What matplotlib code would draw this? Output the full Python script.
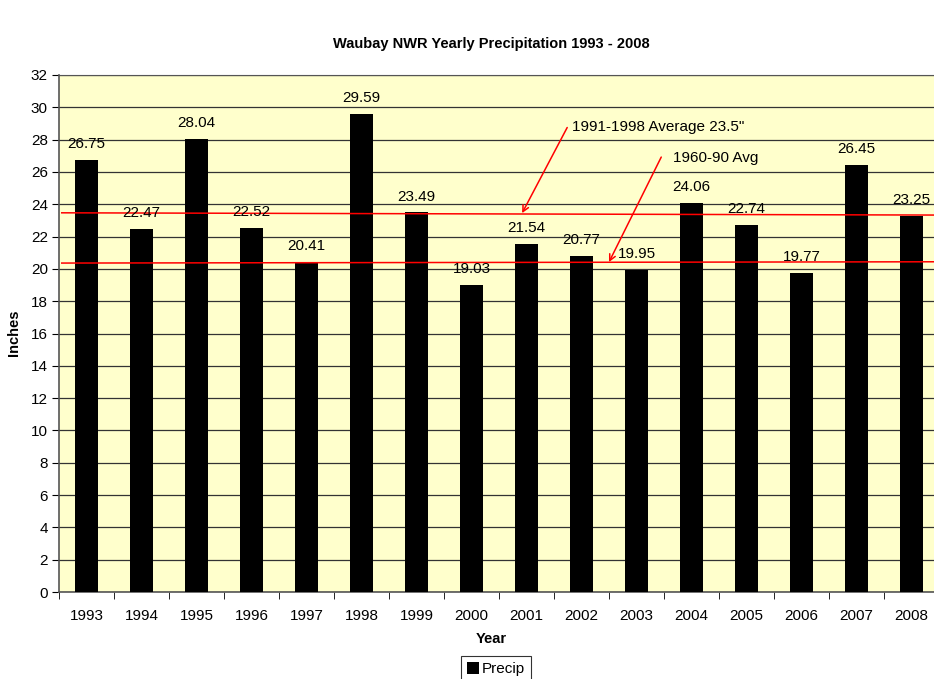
import matplotlib
matplotlib.use("Agg")
import matplotlib.pyplot as plt
import numpy as np

years = ["1993", "1994", "1995", "1996", "1997", "1998", "1999", "2000",
         "2001", "2002", "2003", "2004", "2005", "2006", "2007", "2008"]
precip = [26.75, 22.47, 28.04, 22.52, 20.41, 29.59, 23.49, 19.03,
          21.54, 20.77, 19.95, 24.06, 22.74, 19.77, 26.45, 23.25]
avg_9198 = [23.47, 23.33]
avg_6090 = [20.36, 20.44]
yticks = list(range(0, 33, 2))

plt.rcParams['font.family'] = ['Liberation Sans', 'DejaVu Sans']

W, H = 934, 679
fig = plt.figure(figsize=(W / 100, H / 100), dpi=100)
left, right, top, bottom = 59, 939, 75, 592
ax = fig.add_axes([left / W, 1 - bottom / H, (right - left) / W, (bottom - top) / H])
ax.set_facecolor('#FFFFCC')

x = np.arange(len(years))
ax.set_xlim(-0.5, len(years) - 0.5)
ax.set_ylim(0, 32)
ax.set_yticks(yticks)
ax.yaxis.grid(True, color='#333333', linewidth=0.9)
ax.set_axisbelow(True)

bars = ax.bar(x, precip, width=0.42, color='black', zorder=3, label='Precip')
for xi, v in zip(x, precip):
    ax.annotate(f"{v:.2f}", (xi, v), xytext=(0, 11.5), textcoords='offset points',
                ha='center', va='center', fontsize=11, zorder=5)

ax.plot([-0.45, len(years) - 0.45], avg_9198, color='red', linewidth=1.1, zorder=4)
ax.plot([-0.45, len(years) - 0.45], avg_6090, color='red', linewidth=1.1, zorder=4)

arrow = dict(arrowstyle='->', color='red', lw=1.1, shrinkA=0, shrinkB=0,
             mutation_scale=11)
ax.annotate('', xy=(7.92, 23.45), xytext=(8.74, 28.75), arrowprops=arrow, zorder=6)
ax.text(8.83, 28.78, '1991-1998 Average 23.5"', fontsize=11, va='center', ha='left')
ax.annotate('', xy=(9.5, 20.42), xytext=(10.45, 26.92), arrowprops=arrow, zorder=6)
ax.text(10.66, 26.86, '1960-90 Avg', fontsize=11, va='center', ha='left')

ax.set_xticks(x)
ax.set_xticklabels(years, fontsize=11)
ax.set_xticks(np.arange(-0.5, len(years), 1), minor=True)
ax.tick_params(axis='x', which='major', length=0, pad=12)
ax.tick_params(axis='x', which='minor', length=5, direction='out', color='black')
ax.tick_params(axis='y', length=5, direction='out', labelsize=11, pad=3)
for s in ['left', 'bottom']:
    ax.spines[s].set_color('#555555')
    ax.spines[s].set_linewidth(1.2)
for s in ['top', 'right']:
    ax.spines[s].set_color('#555555')

fig.text(491 / W, 1 - 44 / H, 'Waubay NWR Yearly Precipitation 1993 - 2008',
         ha='center', va='center', fontsize=10.5, fontweight='bold')
fig.text(491 / W, 1 - 639 / H, 'Year', ha='center', va='center',
         fontsize=10.5, fontweight='bold')
fig.text(14 / W, 1 - 333 / H, 'Inches', ha='center', va='center',
         fontsize=10.5, fontweight='bold', rotation=90)

leg = fig.legend(handles=[bars], labels=['Precip'], loc='center',
                 bbox_to_anchor=(496 / W, 1 - 669 / H), fontsize=11,
                 frameon=True, fancybox=False, edgecolor='black',
                 handlelength=0.8, handleheight=0.8, handletextpad=0.2,
                 borderpad=0.4, borderaxespad=0)
leg.get_frame().set_linewidth(0.8)

fig.savefig('out.png', dpi=100, facecolor='white')
